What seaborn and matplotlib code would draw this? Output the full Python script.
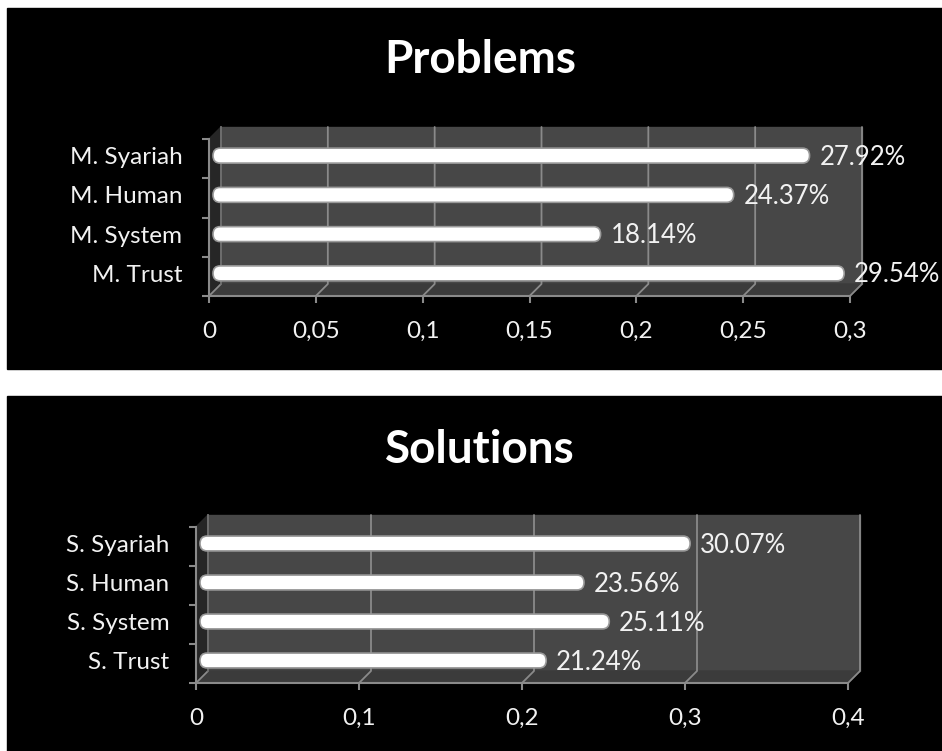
import matplotlib
matplotlib.use('Agg')
import matplotlib.pyplot as plt
import matplotlib.transforms as mtransforms
import seaborn as sns
import pandas as pd
from matplotlib.patches import Rectangle, Polygon, FancyBboxPatch
from matplotlib.ticker import FuncFormatter, FixedLocator

# Données
prob_cats = ['M. Syariah', 'M. Human', 'M. System', 'M. Trust']
prob_vals = [0.2792, 0.2437, 0.1814, 0.2954]
prob_ticks = [0, 0.05, 0.1, 0.15, 0.2, 0.25, 0.3]

sol_cats = ['S. Syariah', 'S. Human', 'S. System', 'S. Trust']
sol_vals = [0.3007, 0.2356, 0.2511, 0.2124]
sol_ticks = [0, 0.1, 0.2, 0.3, 0.4]

sns.set_style('white')
plt.rcParams['font.family'] = ['Lato', 'DejaVu Sans']

W, H = 942, 751
fig = plt.figure(figsize=(W / 100, H / 100), dpi=100, facecolor='white')

GRID = '#8a8a8a'
TXT = '#f2f2f2'
DEPTH = 12  # effet 3D, en pixels


def px(x0, y0, x1, y1):
    # boite en pixels (origine en haut à gauche) -> fraction de figure
    return [x0 / W, 1 - y1 / H, (x1 - x0) / W, (y1 - y0) / H]


# fonds noirs
fig.patches.append(Rectangle((7 / W, 1 - 369 / H), (W - 7) / W, (369 - 8) / H,
                             transform=fig.transFigure, color='black', zorder=-5))
fig.patches.append(Rectangle((7 / W, 0), (W - 7) / W, (751 - 396) / H,
                             transform=fig.transFigure, color='black', zorder=-5))


def comma(v, pos):
    return ('%g' % v).replace('.', ',')


def draw(box, cats, vals, ticks, xmax, title, title_y):
    ax = fig.add_axes(px(*box))
    wpx, hpx = box[2] - box[0], box[3] - box[1]
    n = len(cats)
    ybot, ytop = n - 0.5, -0.5
    ox = DEPTH * xmax / wpx
    oy = -DEPTH * n / hpx

    df = pd.DataFrame({'cat': cats, 'val': vals})
    sns.barplot(data=df, y='cat', x='val', orient='h', color='white',
                width=0.38, ax=ax)
    ax.set_facecolor('none')
    ax.set_xlim(0, xmax)
    ax.set_ylim(ybot, ytop)
    ax.set_xlabel('')
    ax.set_ylabel('')

    # murs 3D
    ax.add_patch(Rectangle((ox, ybot + oy), xmax, ytop - ybot, color='#474747',
                           zorder=0, clip_on=False))
    ax.add_patch(Polygon([(0, ybot), (xmax, ybot), (xmax + ox, ybot + oy),
                          (ox, ybot + oy)], closed=True, color='#3b3b3b',
                         zorder=0.5, clip_on=False))
    ax.add_patch(Polygon([(0, ybot), (ox, ybot + oy), (ox, ytop + oy),
                          (0, ytop)], closed=True, color='#262626',
                         zorder=0.5, clip_on=False))
    for t in ticks:
        ax.plot([t, t + ox, t + ox], [ybot, ybot + oy, ytop + oy], color=GRID,
                lw=1.3, zorder=1, clip_on=False)
    ax.plot([ox, ox], [ybot + oy, ytop + oy], color='#6a6a6a', lw=1.3,
            zorder=1, clip_on=False)

    # barres arrondies
    shift = mtransforms.ScaledTranslation(0.04, 0.03, fig.dpi_scale_trans)
    bars = [p for p in ax.patches if isinstance(p, Rectangle)
            and p.get_facecolor()[:3] == (1, 1, 1)]
    rx = 7 * xmax / wpx
    for p in bars:
        x, y, w, h = p.get_x(), p.get_y(), p.get_width(), p.get_height()
        p.remove()
        ax.add_patch(FancyBboxPatch((x, y), w, h,
                                    boxstyle='round,pad=0,rounding_size=%f' % rx,
                                    mutation_aspect=(abs(h) / 2) / rx,
                                    facecolor='white', edgecolor='#9a9a9a',
                                    lw=1.2, zorder=3, clip_on=False,
                                    transform=ax.transData + shift))

    ax.xaxis.set_major_locator(FixedLocator(ticks))
    ax.xaxis.set_major_formatter(FuncFormatter(comma))
    ax.grid(False)
    for s in ['top', 'right']:
        ax.spines[s].set_visible(False)
    for s in ['left', 'bottom']:
        ax.spines[s].set_color(GRID)
        ax.spines[s].set_linewidth(1.5)
        ax.spines[s].set_zorder(2)
    ax.tick_params(axis='x', colors=GRID, labelcolor=TXT, length=5,
                   width=1.5, pad=13, labelsize=17.5, direction='out',
                   bottom=True)
    ax.tick_params(axis='y', which='major', length=0, labelcolor=TXT,
                   labelsize=17.5, pad=22)
    ax.set_yticks([i + 0.5 for i in range(-1, n)], minor=True)
    ax.tick_params(axis='y', which='minor', length=5, width=1.5,
                   colors=GRID, direction='out', left=True)
    for lab in ax.get_yticklabels():
        lab.set_transform(lab.get_transform() + shift)
    for i, v in enumerate(vals):
        ax.annotate('%.2f%%' % (v * 100), (v, i), xytext=(10, 1),
                    textcoords='offset points', va='center', ha='left',
                    color=TXT, fontsize=18.5, zorder=5,
                    annotation_clip=False)
    fig.text(480 / W, 1 - title_y / H, title, ha='center', va='center',
             color='white', fontsize=33, fontweight='bold')
    return ax


draw((209, 139, 850, 296), prob_cats, prob_vals, prob_ticks, 0.3,
     'Problems', 60)
draw((196, 527, 848, 683), sol_cats, sol_vals, sol_ticks, 0.4,
     'Solutions', 450)

fig.savefig('out.png', dpi=100, facecolor='white')
